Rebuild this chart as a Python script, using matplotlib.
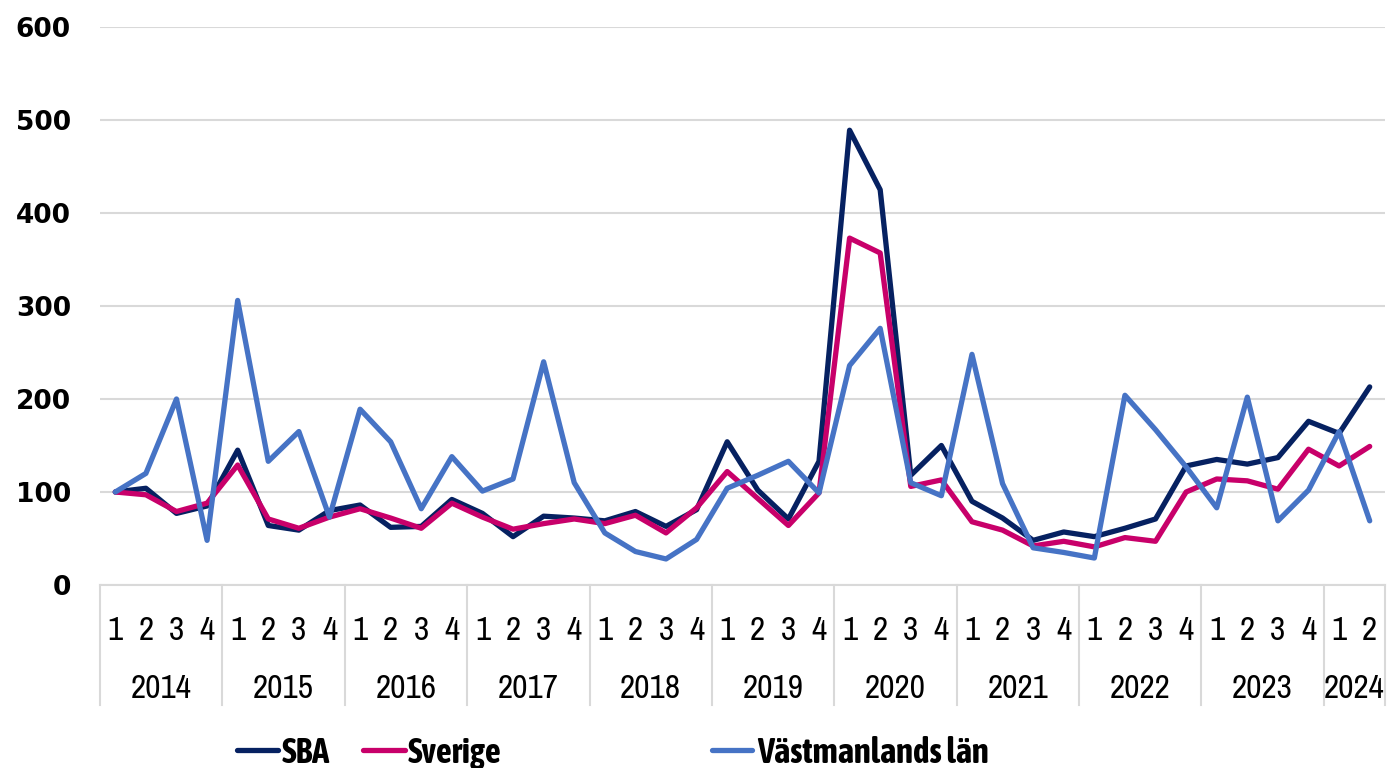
import matplotlib
matplotlib.use('Agg')
import matplotlib.pyplot as plt
from matplotlib import font_manager
from matplotlib.lines import Line2D
import matplotlib.transforms as mtransforms

# data, index 100 = 2014 Q1
years = ['2014', '2015', '2016', '2017', '2018', '2019', '2020', '2021', '2022', '2023', '2024']
quarters_per_year = [4, 4, 4, 4, 4, 4, 4, 4, 4, 4, 2]

sba = [100, 104, 77, 85, 145, 64, 59, 80, 86, 62, 63, 92,
       77, 52, 74, 72, 69, 79, 63, 81, 154, 102, 71, 133,
       489, 425, 118, 150, 90, 72, 48, 57, 52, 61, 71, 128,
       135, 130, 137, 176, 163, 213]
sverige = [100, 97, 79, 88, 129, 71, 61, 73, 82, 72, 61, 88,
           73, 60, 66, 71, 66, 75, 56, 83, 122, 93, 64, 99,
           373, 357, 106, 113, 68, 59, 42, 47, 41, 51, 47, 100,
           114, 112, 103, 146, 128, 149]
vastmanland = [100, 120, 200, 48, 306, 133, 165, 73, 189, 154, 82, 138,
               101, 114, 240, 110, 56, 36, 28, 49, 104, 118, 133, 99,
               236, 276, 110, 96, 248, 109, 40, 35, 29, 204, 167, 127,
               83, 202, 69, 102, 165, 69]

series_names = ['SBA', 'Sverige', 'Västmanlands län']
colors = ['#062161', '#C8006A', '#4673C5']

# pick narrow fonts if installed (regular for axis, bold for legend)
fonts = font_manager.fontManager.ttflist
cands = [f for f in fonts if ('Narrow' in f.name or 'Condensed' in f.name) and f.style == 'normal']


def wnum(f):
    w = f.weight
    if isinstance(w, str):
        w = font_manager.weight_dict.get(w, 400)
    return w


regular = sorted(cands, key=lambda f: abs(wnum(f) - 400))
boldc = sorted([f for f in cands if wnum(f) >= 600], key=lambda f: abs(wnum(f) - 700))
if regular:
    axis_font = font_manager.FontProperties(fname=regular[0].fname)
else:
    axis_font = font_manager.FontProperties(family='Liberation Sans')
if boldc:
    leg_font = font_manager.FontProperties(fname=boldc[0].fname, size=25)
else:
    leg_font = font_manager.FontProperties(family='Liberation Sans', weight='bold', size=21)

W, H = 1394, 768
fig = plt.figure(figsize=(W / 100, H / 100), dpi=100)
ax = fig.add_axes([100 / W, 1 - 585 / H, (1385 - 100) / W, (585 - 27) / H])

x = list(range(len(sba)))
for vals, c in zip([sba, sverige, vastmanland], colors):
    ax.plot(x, vals, color=c, lw=3.8, solid_joinstyle='round', solid_capstyle='round', zorder=3)

ax.set_xlim(-0.5, len(sba) - 0.5)
ax.set_ylim(0, 600)
ax.set_yticks(range(0, 601, 100))
ax.grid(axis='y', color='#D9D9D9', lw=1.5, zorder=0)
for s in ax.spines.values():
    s.set_visible(False)
ax.tick_params(axis='y', length=0, pad=21, labelsize=19)
for lab in ax.get_yticklabels():
    lab.set_fontweight('bold')

# quarter labels
qlabels = []
for n in quarters_per_year:
    qlabels += [str(q + 1) for q in range(n)]
ax.set_xticks(x)
ax.set_xticklabels(qlabels)
for lab in ax.get_xticklabels():
    lab.set_fontproperties(axis_font)
    lab.set_fontsize(24)
ax.tick_params(axis='x', length=0, pad=22)

# year labels and separators
trans = mtransforms.blended_transform_factory(ax.transData, ax.transAxes)
ax.axhline(0, color='#D9D9D9', lw=1.5, zorder=1, clip_on=False)
start = 0
bounds = [-0.5]
for yr, n in zip(years, quarters_per_year):
    ax.text(start + (n - 1) / 2, -104 / 558, yr, transform=trans, ha='center', va='center',
            fontproperties=axis_font, fontsize=24)
    start += n
    bounds.append(start - 0.5)
for b in bounds:
    ax.plot([b, b], [0, -120 / 558], transform=trans, color='#D9D9D9', lw=1.5, clip_on=False)

# legend drawn by hand
leg = [(237, 278, 282), (363, 405, 408), (712, 752, 757)]
for (h0, h1, tx), name, c in zip(leg, series_names, colors):
    fig.add_artist(Line2D([h0 / W, h1 / W], [1 - 750 / H, 1 - 750 / H], color=c, lw=3.8,
                          solid_capstyle='round', transform=fig.transFigure))
    fig.text(tx / W, 1 - 763 / H, name, ha='left', va='baseline', fontproperties=leg_font)

fig.savefig('out.png', dpi=100)
